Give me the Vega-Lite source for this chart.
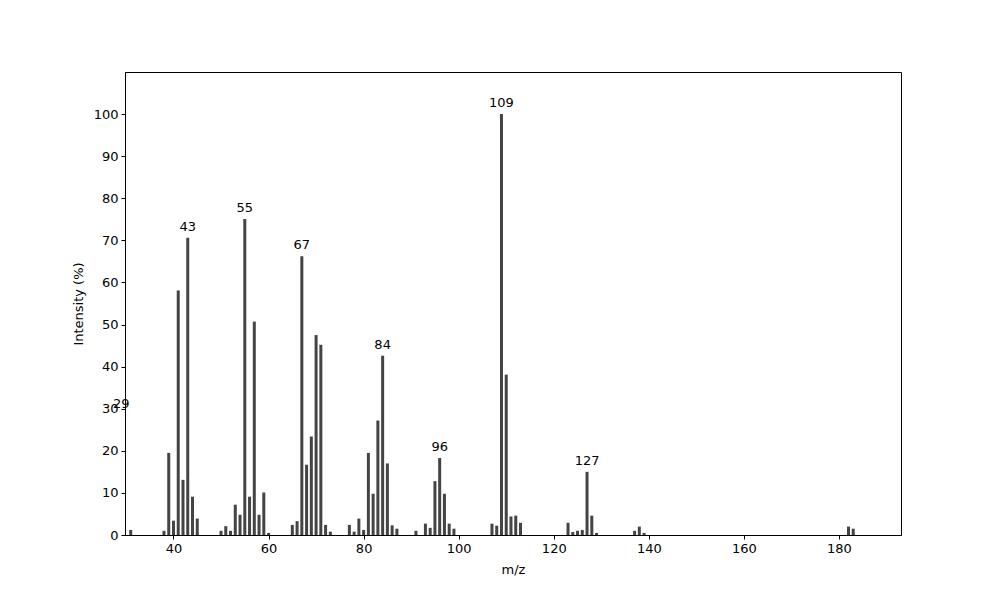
{
  "$schema": "https://vega.github.io/schema/vega-lite/v6.json",
  "autosize": "none",
  "width": 776,
  "height": 463,
  "padding": {"left": 125, "top": 72, "right": 99, "bottom": 65},
  "background": "white",
  "data": {
    "values": [
      {"mz": 29, "intensity": 28.6},
      {"mz": 31, "intensity": 1.2},
      {"mz": 38, "intensity": 1.0},
      {"mz": 39, "intensity": 19.5},
      {"mz": 40, "intensity": 3.4},
      {"mz": 41, "intensity": 58.1},
      {"mz": 42, "intensity": 13.1},
      {"mz": 43, "intensity": 70.6},
      {"mz": 44, "intensity": 9.1},
      {"mz": 45, "intensity": 3.9},
      {"mz": 50, "intensity": 1.0},
      {"mz": 51, "intensity": 2.1},
      {"mz": 52, "intensity": 1.0},
      {"mz": 53, "intensity": 7.2},
      {"mz": 54, "intensity": 4.8},
      {"mz": 55, "intensity": 75.1},
      {"mz": 56, "intensity": 9.1},
      {"mz": 57, "intensity": 50.7},
      {"mz": 58, "intensity": 4.8},
      {"mz": 59, "intensity": 10.1},
      {"mz": 60, "intensity": 0.5},
      {"mz": 65, "intensity": 2.4},
      {"mz": 66, "intensity": 3.3},
      {"mz": 67, "intensity": 66.2},
      {"mz": 68, "intensity": 16.7},
      {"mz": 69, "intensity": 23.4},
      {"mz": 70, "intensity": 47.5},
      {"mz": 71, "intensity": 45.2},
      {"mz": 72, "intensity": 2.4},
      {"mz": 73, "intensity": 0.8},
      {"mz": 77, "intensity": 2.4},
      {"mz": 78, "intensity": 0.8},
      {"mz": 79, "intensity": 3.9},
      {"mz": 80, "intensity": 1.2},
      {"mz": 81, "intensity": 19.5},
      {"mz": 82, "intensity": 9.8},
      {"mz": 83, "intensity": 27.2},
      {"mz": 84, "intensity": 42.6},
      {"mz": 85, "intensity": 17.0},
      {"mz": 86, "intensity": 2.3},
      {"mz": 87, "intensity": 1.5},
      {"mz": 91, "intensity": 1.0},
      {"mz": 93, "intensity": 2.7},
      {"mz": 94, "intensity": 1.7},
      {"mz": 95, "intensity": 12.8},
      {"mz": 96, "intensity": 18.3},
      {"mz": 97, "intensity": 9.8},
      {"mz": 98, "intensity": 2.7},
      {"mz": 99, "intensity": 1.5},
      {"mz": 107, "intensity": 2.7},
      {"mz": 108, "intensity": 2.2},
      {"mz": 109, "intensity": 100},
      {"mz": 110, "intensity": 38.1},
      {"mz": 111, "intensity": 4.4},
      {"mz": 112, "intensity": 4.6},
      {"mz": 113, "intensity": 2.9},
      {"mz": 123, "intensity": 2.9},
      {"mz": 124, "intensity": 0.7},
      {"mz": 125, "intensity": 1.0},
      {"mz": 126, "intensity": 1.2},
      {"mz": 127, "intensity": 15.0},
      {"mz": 128, "intensity": 4.6},
      {"mz": 129, "intensity": 0.5},
      {"mz": 137, "intensity": 1.0},
      {"mz": 138, "intensity": 2.0},
      {"mz": 139, "intensity": 0.5},
      {"mz": 182, "intensity": 2.0},
      {"mz": 183, "intensity": 1.5}
    ]
  },
  "encoding": {
    "x": {
      "field": "mz",
      "type": "quantitative",
      "title": "m/z",
      "scale": {"domain": [29.8, 193.05], "nice": false, "zero": false, "padding": 0},
      "axis": {"values": [40, 60, 80, 100, 120, 140, 160, 180], "grid": false}
    },
    "y": {
      "field": "intensity",
      "type": "quantitative",
      "title": "Intensity (%)",
      "scale": {"domain": [0, 110], "nice": false, "padding": 0},
      "axis": {"values": [0, 10, 20, 30, 40, 50, 60, 70, 80, 90, 100], "grid": false}
    }
  },
  "layer": [
    {
      "mark": {"type": "bar", "size": 3, "color": "#444444", "clip": true}
    },
    {
      "transform": [{"filter": {"field": "mz", "oneOf": [29, 43, 55, 67, 84, 96, 109, 127]}}],
      "mark": {"type": "text", "baseline": "bottom", "align": "center", "dy": -4, "fontSize": 13, "font": "DejaVu Sans", "color": "black"},
      "encoding": {"text": {"field": "mz", "type": "quantitative"}}
    }
  ],
  "config": {
    "view": {"stroke": "black", "strokeWidth": 1},
    "axis": {
      "labelFont": "DejaVu Sans",
      "titleFont": "DejaVu Sans",
      "labelFontSize": 13,
      "titleFontSize": 13,
      "titleFontWeight": "normal",
      "labelColor": "black",
      "titleColor": "black",
      "domainColor": "black",
      "tickColor": "black",
      "tickSize": 4,
      "labelPadding": 3,
      "titlePadding": 8
    }
  }
}
